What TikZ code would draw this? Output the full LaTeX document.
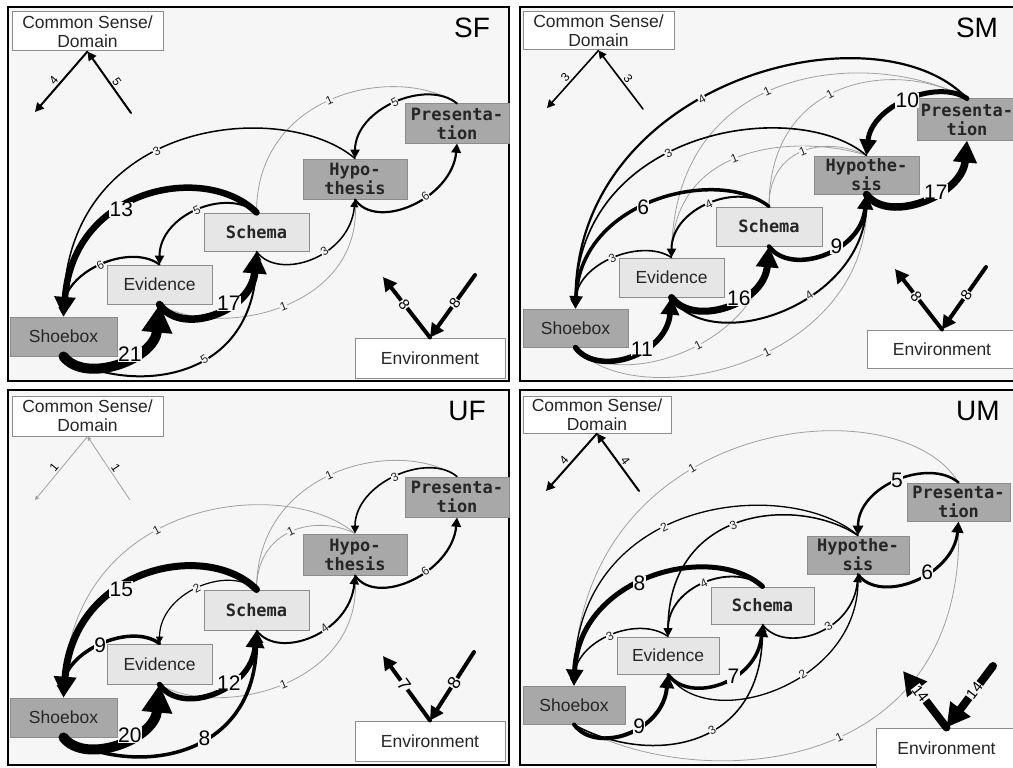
\documentclass[tikz,border=0pt]{standalone}
\usepackage{fontspec}
\setmainfont{Liberation Sans}
\newfontfamily\monof{DejaVu Sans Mono}
\usetikzlibrary{arrows.meta}
\definecolor{pbg}{HTML}{F6F6F6}
\definecolor{darkfill}{HTML}{A8A8A8}
\definecolor{lightfill}{HTML}{E6E6E6}
\definecolor{boxline}{HTML}{8C8C8C}
\definecolor{greyline}{HTML}{A0A0A0}
\newcommand\mkbox[7]{\node[#2, minimum width=#5pt, minimum height=#6pt] (#1) at (#3,#4) {#7};}
\tikzset{
  panel/.style={draw=black, line width=2.5pt, fill=pbg},
  basebox/.style={draw=boxline, line width=1pt, inner sep=0pt, align=center, text=black!85},
  whitebox/.style={basebox, fill=white, font=\fontsize{17.5}{19}\selectfont},
  darkbox/.style={basebox, fill=darkfill, font=\fontsize{17.5}{19}\selectfont},
  darkmono/.style={basebox, fill=darkfill, font=\monof\bfseries\fontsize{17}{19}\selectfont},
  lightbox/.style={basebox, fill=lightfill, font=\fontsize{17.5}{19}\selectfont},
  lightmono/.style={basebox, fill=lightfill, font=\monof\bfseries\fontsize{17}{19}\selectfont},
  plab/.style={font=\fontsize{28}{28}\selectfont},
  fl/.style={line width=#1pt, line cap=round, -{Triangle[length=4pt 2.4, width=4pt 2.5]}},
  gl/.style={line width=0.8pt, draw=greyline},
  sl/.style={font=\fontsize{12}{12}\selectfont, fill=pbg, inner sep=0.5pt, sloped, text=black!85},
  bl/.style={font=\fontsize{21}{21}\selectfont, fill=pbg, inner sep=0.3pt},
  el/.style={font=\fontsize{#1}{#1}\selectfont, fill=pbg, inner sep=0.5pt, sloped},
  cl/.style={font=\fontsize{12}{12}\selectfont, sloped, above, inner sep=1.5pt},
}
\begin{document}
\begin{tikzpicture}[x=1pt,y=-1pt]
\path[use as bounding box, fill=white] (0,0) rectangle (1013,768);
\clip (0,0) rectangle (1013,768);
% panels
\draw[panel] (8,7) rectangle (509,381);
\draw[panel] (520,7) rectangle (1025,381);
\draw[panel] (8,390) rectangle (509,765);
\draw[panel] (520,390) rectangle (1025,765);

%================ SF =================
\mkbox{a-cs}{whitebox}{87.5}{31.5}{151}{39}{Common Sense/\\Domain}
\mkbox{a-pres}{darkmono}{457}{123.5}{104}{39}{Presenta-\\tion}
\mkbox{a-hyp}{darkmono}{355}{179}{104}{40}{Hypo-\\thesis}
\mkbox{a-sch}{lightmono}{256.5}{232}{105}{38}{Schema}
\mkbox{a-ev}{lightbox}{159.5}{284.5}{105}{39}{Evidence}
\mkbox{a-shoe}{darkbox}{63.5}{336.5}{107}{39}{Shoebox}
\mkbox{a-env}{whitebox}{430}{358}{150}{40}{Environment}
\node[plab] (a-lab) at (472,28) {SF};
\coordinate (a-cl) at (35,112); \coordinate (a-cr) at (131,113);
\draw[fl=2] (a-cs.south) -- node[cl,pos=.55]{4} (a-cl);
\draw[fl=2] (a-cr) -- node[cl,pos=.45]{5} (a-cs.south);
\coordinate (a-el) at (383,277); \coordinate (a-er) at (475,275);
\draw[fl=4] (a-env.north) -- node[el=15,pos=.55]{8} (a-el);
\draw[fl=4] (a-er) -- node[el=15,pos=.45]{8} (a-env.north);
\draw[gl] (a-hyp.south) .. controls +(10,110) and +(60,35) .. node[sl,pos=.5]{1} (a-ev.south);
\draw[gl] (a-pres.north) .. controls +(-60,-40) and +(0,-120) .. node[sl,pos=.52]{1} (a-sch.north);
\draw[fl=2] (a-shoe.south) .. controls +(70,40) and +(0,130) .. node[sl,pos=.58]{5} (a-sch.south);
\draw[fl=1.5] (a-sch.south) .. controls +(22,30) and +(-5,58) .. node[sl,pos=.6]{3} (a-hyp.south);
\draw[fl=2.2] (a-hyp.south) .. controls +(22,32) and +(-5,55) .. node[sl,pos=.6]{6} (a-pres.south);
\draw[fl=2] (a-pres.north) .. controls +(-30,-25) and +(0,-50) .. node[sl,pos=.5]{5} (a-hyp.north);
\draw[fl=1.5] (a-hyp.north) .. controls +(-70,-60) and +(0,-200) .. node[sl,pos=.57]{3} (a-shoe.north);
\draw[fl=2] (a-sch.north) .. controls +(-30,-25) and +(0,-50) .. node[sl,pos=.5]{5} (a-ev.north);
\draw[fl=2.2] (a-ev.north) .. controls +(-30,-22) and +(0,-45) .. node[sl,pos=.5]{6} (a-shoe.north);
\draw[fl=6.5] (a-sch.north) .. controls +(-50,-50) and +(10,-130) .. node[bl,pos=.6]{13} (a-shoe.north);
\draw[fl=7.5] (a-ev.south) .. controls +(22,32) and +(-5,60) .. node[bl,pos=.62]{17} (a-sch.south);
\draw[fl=10] (a-shoe.south) .. controls +(22,28) and +(-5,55) .. node[bl,pos=.6]{21} (a-ev.south);

%================ SM =================
\mkbox{b-cs}{whitebox}{598.5}{31}{151}{38}{Common Sense/\\Domain}
\mkbox{b-pres}{darkmono}{967}{119.5}{100}{41}{Presenta-\\tion}
\mkbox{b-hyp}{darkmono}{866.5}{175}{105}{38}{Hypothe-\\sis}
\mkbox{b-sch}{lightmono}{769}{226.5}{106}{39}{Schema}
\mkbox{b-ev}{lightbox}{671.5}{277.5}{105}{39}{Evidence}
\mkbox{b-shoe}{darkbox}{575.5}{328}{105}{38}{Shoebox}
\mkbox{b-env}{whitebox}{942}{349}{150}{38}{Environment}
\node[plab] (b-lab) at (977,28) {SM};
\coordinate (b-cl) at (547,108); \coordinate (b-cr) at (643,109);
\draw[fl=1.6] (b-cs.south) -- node[cl,pos=.55]{3} (b-cl);
\draw[fl=1.6] (b-cr) -- node[cl,pos=.45]{3} (b-cs.south);
\coordinate (b-el) at (895,269); \coordinate (b-er) at (986,267);
\draw[fl=4] (b-env.north) -- node[el=15,pos=.55]{8} (b-el);
\draw[fl=4] (b-er) -- node[el=15,pos=.45]{8} (b-env.north);
\draw[gl] (b-shoe.south) .. controls +(40,45) and +(-5,100) .. node[sl,pos=.55]{1} (b-sch.south);
\draw[gl] (b-shoe.south) .. controls +(60,70) and +(10,170) .. node[sl,pos=.55]{1} (b-hyp.south);
\draw[gl] (b-pres.north) .. controls +(-90,-50) and +(0,-200) .. node[sl,pos=.55]{1} (b-ev.north);
\draw[gl] (b-pres.north) .. controls +(-70,-40) and +(0,-130) .. node[sl,pos=.55]{1} (b-sch.north);
\draw[gl] (b-hyp.north) .. controls +(-60,-20) and +(0,-120) .. node[sl,pos=.55]{1} (b-ev.north);
\draw[gl] (b-hyp.north) .. controls +(-40,-20) and +(0,-60) .. node[sl,pos=.5]{1} (b-sch.north);
\draw[fl=2] (b-ev.south) .. controls +(40,60) and +(0,110) .. node[sl,pos=.6]{4} (b-hyp.south);
\draw[fl=2.2] (b-pres.north) .. controls +(-90,-95) and +(0,-230) .. node[sl,pos=.57]{4} (b-shoe.north);
\draw[fl=1.6] (b-hyp.north) .. controls +(-70,-60) and +(0,-180) .. node[sl,pos=.57]{3} (b-shoe.north);
\draw[fl=2] (b-sch.north) .. controls +(-30,-25) and +(0,-50) .. node[sl,pos=.5]{4} (b-ev.north);
\draw[fl=1.6] (b-ev.north) .. controls +(-30,-20) and +(0,-45) .. node[sl,pos=.5]{3} (b-shoe.north);
\draw[fl=3.5] (b-sch.north) .. controls +(-50,-40) and +(5,-110) .. node[bl,pos=.55]{6} (b-shoe.north);
\draw[fl=5] (b-pres.north) .. controls +(-30,-20) and +(5,-50) .. node[bl,pos=.5]{10} (b-hyp.north);
\draw[fl=5.5] (b-shoe.south) .. controls +(22,30) and +(-5,58) .. node[bl,pos=.6]{11} (b-ev.south);
\draw[fl=7] (b-ev.south) .. controls +(22,30) and +(-5,58) .. node[bl,pos=.6]{16} (b-sch.south);
\draw[fl=4.5] (b-sch.south) .. controls +(22,30) and +(-5,58) .. node[bl,pos=.6]{9} (b-hyp.south);
\draw[fl=7.5] (b-hyp.south) .. controls +(22,30) and +(-5,55) .. node[bl,pos=.6]{17} (b-pres.south);

%================ UF =================
\mkbox{c-cs}{whitebox}{87.5}{416}{151}{40}{Common Sense/\\Domain}
\mkbox{c-pres}{darkmono}{457}{497}{104}{40}{Presenta-\\tion}
\mkbox{c-hyp}{darkmono}{355}{554.5}{104}{41}{Hypo-\\thesis}
\mkbox{c-sch}{lightmono}{256.5}{610}{105}{40}{Schema}
\mkbox{c-ev}{lightbox}{159.5}{664}{105}{40}{Evidence}
\mkbox{c-shoe}{darkbox}{63.5}{717.5}{107}{39}{Shoebox}
\mkbox{c-env}{whitebox}{430}{741}{150}{40}{Environment}
\node[plab] (c-lab) at (467,411) {UF};
\coordinate (c-cl) at (35,500); \coordinate (c-cr) at (130,500);
\draw[gl,-{Triangle[length=4pt,width=4pt]}] (c-cs.south) -- node[cl,pos=.55]{1} (c-cl);
\draw[gl,-{Triangle[length=4pt,width=4pt]}] (c-cr) -- node[cl,pos=.45]{1} (c-cs.south);
\coordinate (c-el) at (383,656); \coordinate (c-er) at (474,652);
\draw[fl=4] (c-env.north) -- node[el=18,pos=.55]{7} (c-el);
\draw[fl=4] (c-er) -- node[el=18,pos=.45]{8} (c-env.north);
\draw[gl] (c-hyp.south) .. controls +(10,110) and +(60,35) .. node[sl,pos=.5]{1} (c-ev.south);
\draw[gl] (c-pres.north) .. controls +(-60,-40) and +(0,-120) .. node[sl,pos=.52]{1} (c-sch.north);
\draw[gl] (c-hyp.north) .. controls +(-40,-20) and +(0,-60) .. node[sl,pos=.5]{1} (c-sch.north);
\draw[gl] (c-hyp.north) .. controls +(-70,-60) and +(0,-200) .. node[sl,pos=.57]{1} (c-shoe.north);
\draw[fl=2] (c-sch.south) .. controls +(22,30) and +(-5,58) .. node[sl,pos=.6]{4} (c-hyp.south);
\draw[fl=2.2] (c-hyp.south) .. controls +(22,32) and +(-5,55) .. node[sl,pos=.6]{6} (c-pres.south);
\draw[fl=1.6] (c-pres.north) .. controls +(-30,-25) and +(0,-50) .. node[sl,pos=.5]{3} (c-hyp.north);
\draw[fl=1.2] (c-sch.north) .. controls +(-30,-25) and +(0,-50) .. node[sl,pos=.5]{2} (c-ev.north);
\draw[fl=3.5] (c-ev.north) .. controls +(-30,-22) and +(0,-45) .. node[bl,pos=.5]{9} (c-shoe.north);
\draw[fl=3.5] (c-shoe.south) .. controls +(70,40) and +(0,130) .. node[bl,pos=.58]{8} (c-sch.south);
\draw[fl=7] (c-sch.north) .. controls +(-50,-50) and +(10,-130) .. node[bl,pos=.6]{15} (c-shoe.north);
\draw[fl=5.5] (c-ev.south) .. controls +(22,32) and +(-5,60) .. node[bl,pos=.62]{12} (c-sch.south);
\draw[fl=10] (c-shoe.south) .. controls +(22,28) and +(-5,55) .. node[bl,pos=.6]{20} (c-ev.south);

%================ UM =================
\mkbox{d-cs}{whitebox}{597}{414.5}{148}{37}{Common Sense/\\Domain}
\mkbox{d-pres}{darkmono}{958.5}{502}{103}{38}{Presenta-\\tion}
\mkbox{d-hyp}{darkmono}{858}{555}{102}{38}{Hypothe-\\sis}
\mkbox{d-sch}{lightmono}{762.5}{605.5}{103}{37}{Schema}
\mkbox{d-ev}{lightbox}{668}{655.5}{102}{37}{Evidence}
\mkbox{d-shoe}{darkbox}{574}{705}{102}{38}{Shoebox}
\mkbox{d-env}{whitebox}{946.5}{748}{141}{40}{Environment}
\node[plab] (d-lab) at (978,411) {UM};
\coordinate (d-cl) at (546,491); \coordinate (d-cr) at (639,491);
\draw[fl=2] (d-cs.south) -- node[cl,pos=.55]{4} (d-cl);
\draw[fl=2] (d-cr) -- node[cl,pos=.45]{4} (d-cs.south);
\coordinate (d-el) at (903,671); \coordinate (d-er) at (993,666);
\draw[gl] (d-shoe.south) .. controls +(120,70) and +(10,260) .. node[sl,pos=.55]{1} (d-pres.south);
\draw[gl] (d-pres.north) .. controls +(-60,-100) and +(0,-270) .. node[sl,pos=.6]{1} (d-shoe.north);
\draw[fl=8] (d-env.north) -- node[el=15,pos=.6]{14} (d-el);
\draw[fl=8] (d-er) -- node[el=15,pos=.4]{14} (d-env.north);
\draw[fl=1.6] (d-sch.south) .. controls +(22,30) and +(-5,58) .. node[sl,pos=.6]{3} (d-hyp.south);
\draw[fl=1.3] (d-ev.south) .. controls +(40,60) and +(0,110) .. node[sl,pos=.6]{2} (d-hyp.south);
\draw[fl=1.5] (d-shoe.south) .. controls +(70,40) and +(0,130) .. node[sl,pos=.58]{3} (d-sch.south);
\draw[fl=1.3] (d-hyp.north) .. controls +(-70,-60) and +(0,-190) .. node[sl,pos=.57]{2} (d-shoe.north);
\draw[fl=1.5] (d-hyp.north) .. controls +(-60,-40) and +(0,-130) .. node[sl,pos=.53]{3} (d-ev.north);
\draw[fl=1.8] (d-sch.north) .. controls +(-30,-25) and +(0,-50) .. node[sl,pos=.5]{4} (d-ev.north);
\draw[fl=1.5] (d-ev.north) .. controls +(-30,-22) and +(0,-45) .. node[sl,pos=.5]{3} (d-shoe.north);
\draw[fl=2.5] (d-pres.north) .. controls +(-30,-25) and +(0,-50) .. node[bl,pos=.5]{5} (d-hyp.north);
\draw[fl=3] (d-hyp.south) .. controls +(22,30) and +(-5,55) .. node[bl,pos=.6]{6} (d-pres.south);
\draw[fl=5] (d-sch.north) .. controls +(-50,-45) and +(5,-110) .. node[bl,pos=.55]{8} (d-shoe.north);
\draw[fl=3.5] (d-ev.south) .. controls +(22,30) and +(-5,58) .. node[bl,pos=.6]{7} (d-sch.south);
\draw[fl=4] (d-shoe.south) .. controls +(22,30) and +(-5,58) .. node[bl,pos=.6]{9} (d-ev.south);
\end{tikzpicture}
\end{document}
